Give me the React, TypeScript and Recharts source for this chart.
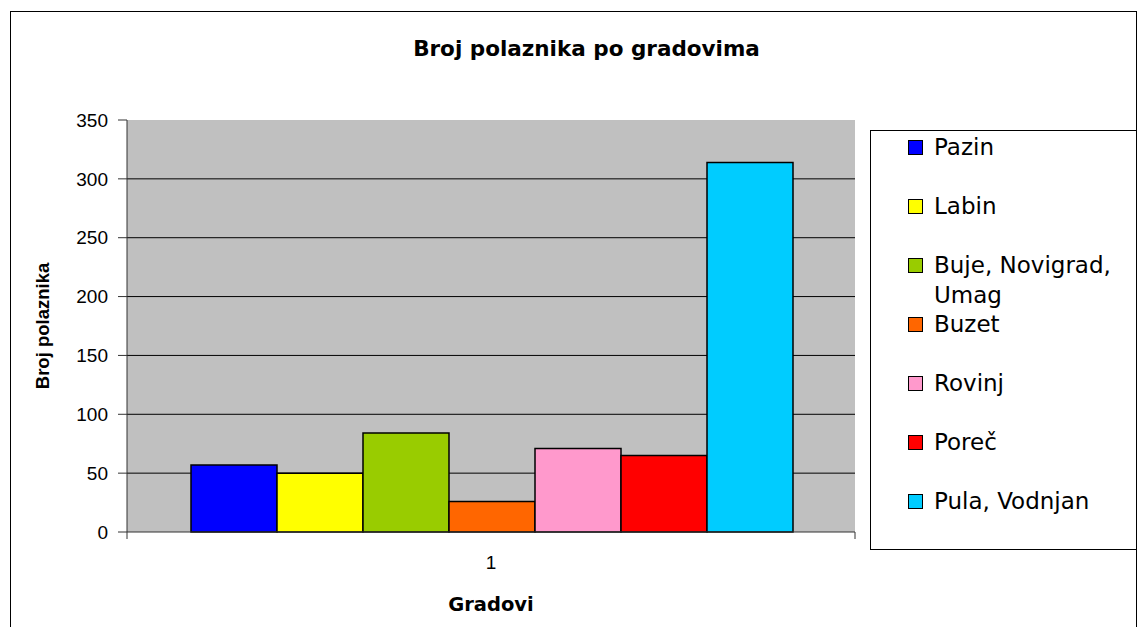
import { BarChart, Bar, XAxis, YAxis, CartesianGrid } from "recharts";

const categories = ["1"];
const cities = [
  "Pazin",
  "Labin",
  "Buje, Novigrad, Umag",
  "Buzet",
  "Rovinj",
  "Poreč",
  "Pula, Vodnjan",
];
const values = [57, 50, 84, 26, 71, 65, 314];
const colors = ["#0000FF", "#FFFF00", "#99CC00", "#FF6600", "#FF99CC", "#FF0000", "#00CCFF"];
const yTicks = [0, 50, 100, 150, 200, 250, 300, 350];
const gridValues = [50, 100, 150, 200, 250, 300];
const edgeTicks = [0, 1];

const data = categories.map((name, c) => {
  const row: Record<string, string | number> = { name, pos: c };
  cities.forEach((_, i) => {
    row[`s${i}`] = values[i];
  });
  return row;
});

const YLabel = ({ viewBox }: any) => {
  const cy = viewBox.y + viewBox.height / 2;
  const cx = 42;
  return (
    <text
      x={cx}
      y={cy}
      transform={`rotate(-90, ${cx}, ${cy})`}
      textAnchor="middle"
      dominantBaseline="central"
      fontFamily="Liberation Sans, Arial, sans-serif"
      fontWeight="bold"
      fontSize={18.5}
      fill="#000"
    >
      Broj polaznika
    </text>
  );
};

// short tick mark pointing down from the x axis at the plot edges
const EdgeTick = ({ x, y }: any) => (
  <line x1={x} x2={x} y1={y} y2={y + 7} stroke="#333" strokeWidth={1} />
);

const tickFont = { fill: "#000", fontSize: 19, fontFamily: "Liberation Sans, Arial, sans-serif" };

export default function App() {
  return (
    <div
      style={{
        position: "absolute",
        left: 0,
        top: 0,
        width: 1137,
        height: 627,
        overflow: "hidden",
        background: "#fff",
      }}
    >
      {/* outer frame */}
      <div
        style={{
          position: "absolute",
          left: 10,
          top: 11,
          width: 1125,
          height: 700,
          border: "1px solid #000",
        }}
      />
      <div
        style={{
          position: "absolute",
          left: 0,
          width: 1173,
          top: 37,
          lineHeight: "24px",
          textAlign: "center",
          fontFamily: "DejaVu Sans, sans-serif",
          fontWeight: "bold",
          fontSize: 21.5,
        }}
      >
        Broj polaznika po gradovima
      </div>

      <div style={{ position: "absolute", left: 0, top: 0 }}>
        <BarChart
          width={1137}
          height={627}
          data={data}
          margin={{ top: 120, right: 282, bottom: 14, left: 27 }}
          barCategoryGap={64}
          barGap={0}
        >
          <CartesianGrid
            vertical={false}
            xAxisId="cat"
            horizontalValues={gridValues}
            fill="#C0C0C0"
            fillOpacity={1}
            stroke="#000"
            strokeOpacity={1}
          />
          {/* frame axis: axis line plus tick marks at the plot edges */}
          <XAxis
            xAxisId={0}
            type="number"
            dataKey="pos"
            domain={[0, 1]}
            ticks={edgeTicks}
            interval={0}
            tick={<EdgeTick />}
            tickLine={false}
            tickSize={0}
            tickMargin={0}
            height={1}
            stroke="#333"
          />
          <XAxis
            xAxisId="cat"
            dataKey="name"
            height={80}
            axisLine={false}
            tickLine={false}
            tickSize={8}
            tickMargin={15}
            tick={tickFont}
            label={{
              value: "Gradovi",
              position: "insideBottom",
              offset: 2,
              fill: "#000",
              fontSize: 19.5,
              fontWeight: "bold",
              fontFamily: "DejaVu Sans, sans-serif",
            }}
          />
          <YAxis
            width={100}
            domain={[0, 350]}
            ticks={yTicks}
            interval={0}
            tickSize={9}
            tickMargin={10}
            stroke="#333"
            tick={tickFont}
            label={{ content: YLabel }}
          />
          {cities.map((city, i) => (
            <Bar
              key={city}
              xAxisId="cat"
              dataKey={`s${i}`}
              name={city}
              fill={colors[i]}
              stroke="#000"
              strokeWidth={1.5}
              isAnimationActive={false}
            />
          ))}
        </BarChart>
      </div>

      {/* legend */}
      <div
        style={{
          position: "absolute",
          left: 870,
          top: 130,
          width: 290,
          height: 420,
          border: "1px solid #000",
          boxSizing: "border-box",
          fontFamily: "DejaVu Sans, sans-serif",
          fontSize: 23,
        }}
      >
        {cities.map((city, i) => (
          <div
            key={city}
            style={{
              position: "absolute",
              left: 37,
              top: 1 + i * 59,
              width: 220,
              display: "flex",
              alignItems: "flex-start",
              lineHeight: "30px",
            }}
          >
            <span
              style={{
                display: "inline-block",
                width: 13,
                height: 13,
                marginTop: 8,
                marginRight: 11,
                flex: "none",
                background: colors[i],
                border: "1px solid #000",
              }}
            />
            <span style={{ width: 200 }}>{city}</span>
          </div>
        ))}
      </div>
    </div>
  );
}
